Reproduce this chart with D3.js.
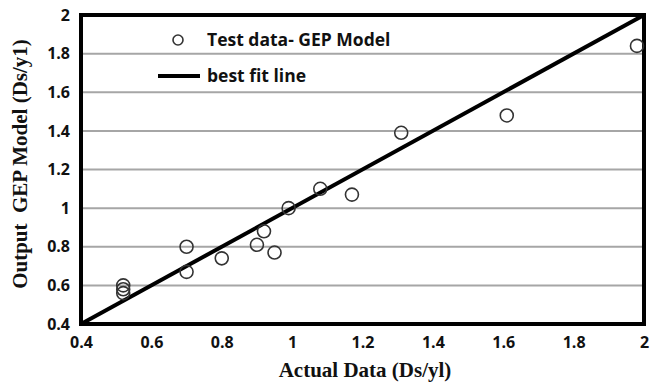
<!DOCTYPE html>
<html>
<head>
<meta charset="utf-8">
<script src="https://cdn.jsdelivr.net/npm/d3@7"></script>
<style>
  body { margin: 0; background: #fff; }
  .tick text { font-family: "Open Sans", sans-serif; font-weight: bold; font-size: 16px; fill: #111; }
  .axisTitle { font-family: "Liberation Serif", serif; font-weight: bold; font-size: 21px; fill: #111; }
  .legendText { font-family: "Open Sans", sans-serif; font-weight: bold; font-size: 17.5px; fill: #111; }
</style>
</head>
<body>
<div id="chart"></div>
<script>
// observed (actual) vs predicted (GEP) values
let actual    = [0.52, 0.52, 0.52, 0.70, 0.70, 0.80, 0.90, 0.92, 0.95, 0.99, 1.08, 1.17, 1.31, 1.61, 1.98];
let predicted = [0.60, 0.58, 0.56, 0.80, 0.67, 0.74, 0.81, 0.88, 0.77, 1.00, 1.10, 1.07, 1.39, 1.48, 1.84];
let xTicks = [0.4, 0.6, 0.8, 1, 1.2, 1.4, 1.6, 1.8, 2];
let yTicks = [0.4, 0.6, 0.8, 1, 1.2, 1.4, 1.6, 1.8, 2];
let fitLine = [[0.4, 0.4], [2, 2]];

let width = 656, height = 384;
let margin = {top: 15, right: 12, bottom: 60, left: 81};

let svg = d3.select("#chart").append("svg")
    .attr("width", width)
    .attr("height", height);

let xScale = d3.scaleLinear().domain([0.4, 2]).range([margin.left, width - margin.right]);
let yScale = d3.scaleLinear().domain([0.4, 2]).range([height - margin.bottom, margin.top]);

//gridlines
svg.selectAll(".grid").data(yTicks.slice(1, -1)).enter().append("line")
    .attr("x1", xScale(0.4)).attr("x2", xScale(2))
    .attr("y1", d => yScale(d)).attr("y2", d => yScale(d))
    .attr("stroke", "#a6a6a6").attr("stroke-width", 2);

//axes
let xAxis = d3.axisBottom(xScale).tickValues(xTicks).tickSize(0).tickPadding(10)
    .tickFormat(d => d3.format("")(d));
let yAxis = d3.axisLeft(yScale).tickValues(yTicks).tickSize(0).tickPadding(11)
    .tickFormat(d => d3.format("")(d));

svg.append("g").attr("transform", "translate(0," + yScale(0.4) + ")").call(xAxis)
    .call(g => g.select(".domain").remove())
    .selectAll("text").attr("dy", "0.85em");
svg.append("g").attr("transform", "translate(" + xScale(0.4) + ",0)").call(yAxis)
    .call(g => g.select(".domain").remove());

//frame
svg.append("rect")
    .attr("x", xScale(0.4)).attr("y", yScale(2))
    .attr("width", xScale(2) - xScale(0.4))
    .attr("height", yScale(0.4) - yScale(2))
    .attr("fill", "none").attr("stroke", "#000").attr("stroke-width", 4);

//best fit line
svg.append("path").datum(fitLine)
    .attr("d", d3.line().x(d => xScale(d[0])).y(d => yScale(d[1])))
    .attr("stroke", "#000").attr("stroke-width", 4).attr("fill", "none");

//points
svg.selectAll(".pt").data(actual).enter().append("circle")
    .attr("class", "pt")
    .attr("cx", d => xScale(d))
    .attr("cy", (d, i) => yScale(predicted[i]))
    .attr("r", 6.5)
    .attr("fill", "none").attr("stroke", "#333").attr("stroke-width", 1.6);

//legend
svg.append("circle").attr("cx", 178).attr("cy", 40).attr("r", 5)
    .attr("fill", "none").attr("stroke", "#333").attr("stroke-width", 1.6);
svg.append("text").attr("class", "legendText").attr("x", 207).attr("y", 46).text("Test data- GEP Model");
svg.append("line").attr("x1", 158).attr("x2", 200).attr("y1", 76).attr("y2", 76)
    .attr("stroke", "#000").attr("stroke-width", 4);
svg.append("text").attr("class", "legendText").attr("x", 207).attr("y", 82).text("best fit line");

//axis titles
svg.append("text").attr("class", "axisTitle")
    .attr("x", 365).attr("y", 377).attr("text-anchor", "middle")
    .text("Actual Data (Ds/yl)");
svg.append("text").attr("class", "axisTitle")
    .attr("transform", "translate(27," + 164 + ") rotate(-90)")
    .attr("text-anchor", "middle")
    .text("Output  GEP Model (Ds/y1)")
    .style("white-space", "pre");
</script>
</body>
</html>
